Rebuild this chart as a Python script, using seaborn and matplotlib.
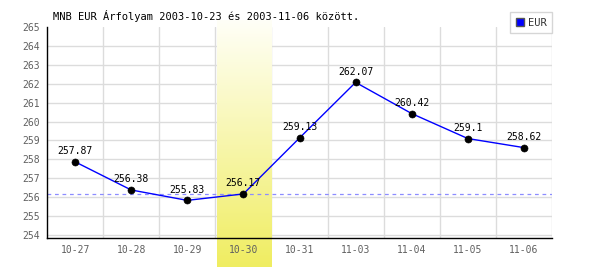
import numpy as np
import pandas as pd
import matplotlib
matplotlib.use("Agg")
import matplotlib.pyplot as plt
import matplotlib.patches as mpatches
import seaborn as sns

# ---- data ----
dates = ["10-27", "10-28", "10-29", "10-30", "10-31", "11-03", "11-04", "11-05", "11-06"]
rates = [257.87, 256.38, 255.83, 256.17, 259.13, 262.07, 260.42, 259.1, 258.62]
value_labels = ["257.87", "256.38", "255.83", "256.17", "259.13", "262.07", "260.42", "259.1", "258.62"]
highlight_date = "10-30"
reference_rate = 256.17
y_ticks = list(range(254, 266))
title = "MNB EUR Árfolyam 2003-10-23 és 2003-11-06 között."
series_name = "EUR"

sns.set_theme(style="white")
plt.rcParams["font.family"] = ["DejaVu Sans Mono", "DejaVu Sans"]
plt.rcParams["axes.axisbelow"] = False

df = pd.DataFrame({"pos": np.arange(len(dates)), "date": dates, "rate": rates})

fig = plt.figure(figsize=(6, 2.7), dpi=100)
ax = fig.add_axes([47 / 600, 1 - 237.8 / 270, (552 - 47) / 600, (237.8 - 27) / 270])
ax.set_axisbelow(False)

ymin, ymax = 253.85, 265.0
ax.set_xlim(-0.5, len(dates) - 0.5)
ax.set_ylim(ymin, ymax)

# grid
ax.set_yticks(y_ticks)
ax.set_xticks(df["pos"])
ax.set_xticklabels(dates)
ax.grid(False)
for y in y_ticks[:-1]:
    ax.axhline(y, color="#dcdcdc", lw=1.0, zorder=0)
for x in np.arange(len(dates)) + 0.5:
    ax.axvline(x, color="#dcdcdc", lw=1.0, zorder=0)

# highlight band with gradient (extends below axis)
hi = dates.index(highlight_date)
px_per_unit = (237.8 - 27) / (ymax - ymin)
top_val = ymax + (27 - 20) / px_per_unit
bot_val = ymin - (267 - 237.8) / px_per_unit
grad = np.linspace(0, 1, 256).reshape(-1, 1)
c_top = np.array([1.0, 1.0, 0.97])
c_bot = np.array([0.94, 0.93, 0.38])
img = c_top + (c_bot - c_top) * grad[..., None]
ax.imshow(img, extent=[hi - 0.47, hi + 0.5, bot_val, top_val], origin="upper",
          aspect="auto", zorder=1, clip_on=False)
ax.set_xlim(-0.5, len(dates) - 0.5)
ax.set_ylim(ymin, ymax)

# reference dashed line
ax.axhline(reference_rate, color="#8c8cff", lw=0.9, ls=(0, (3, 3)), zorder=2)

# line and markers
sns.lineplot(data=df, x="pos", y="rate", ax=ax, color="#0000ff", lw=1.0, zorder=3, legend=False)
sns.scatterplot(data=df, x="pos", y="rate", ax=ax, color="black", s=26, edgecolor="black",
                zorder=4, legend=False)
for x, y, lab in zip(df["pos"], df["rate"], value_labels):
    ax.annotate(lab, (x, y), xytext=(0, 4), textcoords="offset points", ha="center",
                va="bottom", fontsize=7, color="black", zorder=5)

# axes styling
ax.set_xlabel("")
ax.set_ylabel("")
for s in ["top", "right"]:
    ax.spines[s].set_visible(False)
for s in ["left", "bottom"]:
    ax.spines[s].set_color("black")
    ax.spines[s].set_linewidth(1.0)
    ax.spines[s].set_zorder(6)
ax.tick_params(axis="both", which="both", length=0, labelsize=7, labelcolor="#606060")
ax.tick_params(axis="x", pad=5)
ax.tick_params(axis="y", pad=5)
ax.xaxis.set_zorder(6)
ax.yaxis.set_zorder(6)

fig.text(53 / 600, 1 - 16 / 270, title, fontsize=7.5, color="black", ha="left", va="center")

handle = mpatches.Patch(facecolor="#0000ff", edgecolor="#555555", label=series_name)
leg = fig.legend(handles=[handle], loc="upper right", bbox_to_anchor=(552 / 600, 1 - 12 / 270),
                 fontsize=7.5, frameon=True, fancybox=False, handlelength=0.8, handleheight=0.8,
                 handletextpad=0.3, borderpad=0.55, borderaxespad=0)
leg.get_frame().set_edgecolor("#cccccc")
leg.get_frame().set_linewidth(1.0)
for t in leg.get_texts():
    t.set_color("#333333")

fig.savefig("out.png", dpi=100)
